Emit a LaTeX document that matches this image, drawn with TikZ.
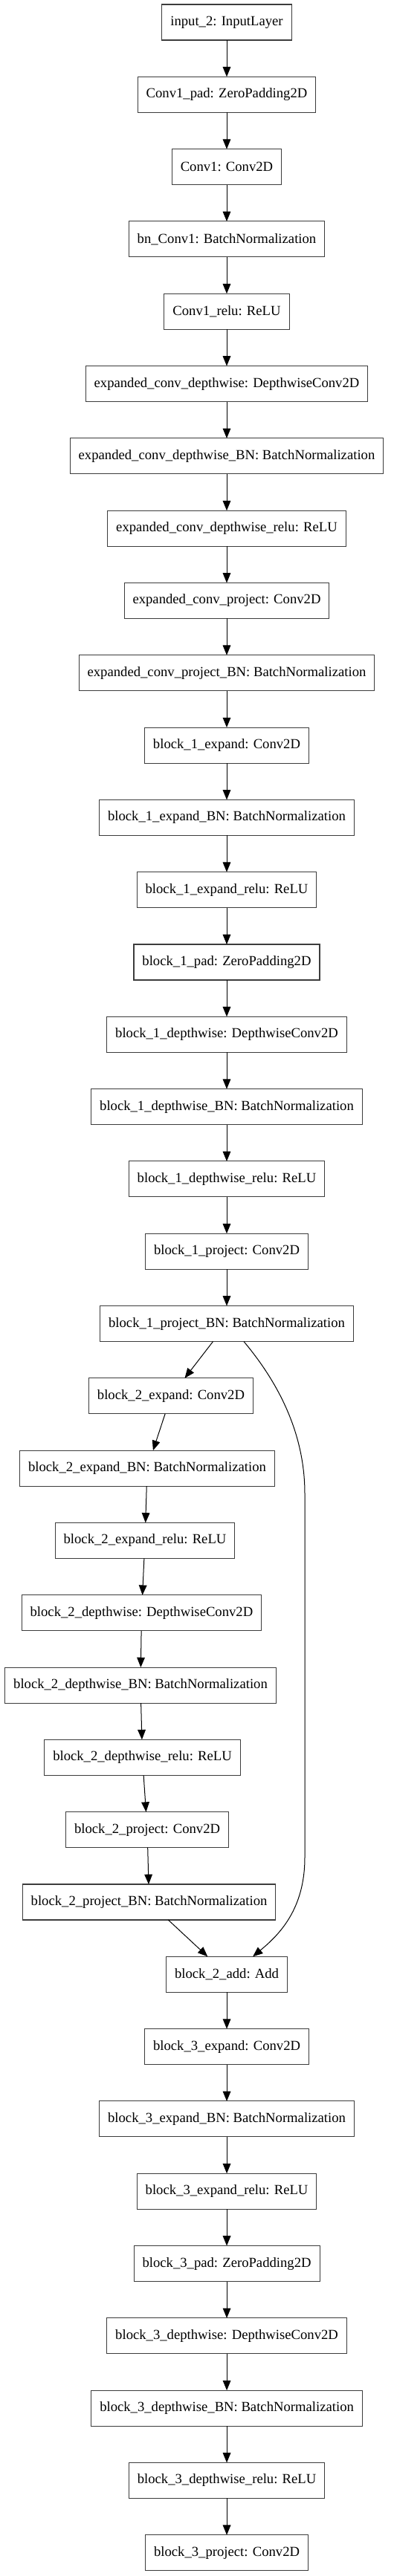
\documentclass[tikz,border=0pt]{standalone}
\usepackage{fontspec}
\setmainfont{Liberation Serif}
\usetikzlibrary{arrows.meta,positioning}
\definecolor{BoxLine}{RGB}{60,60,60}
\tikzset{
  layerbox/.style={draw=BoxLine,line width=0.8pt,rectangle,fill=white,
    minimum height=36pt,inner xsep=8.6pt,outer sep=0pt,align=center,
    font=\fontsize{14pt}{16pt}\selectfont},
  flowarrow/.style={-{Triangle[length=10pt,width=8pt]},
    line width=0.75pt,draw=black},
}

\begin{document}
\begin{tikzpicture}[node distance=36.98pt]
  \useasboundingbox (0,0) rectangle (396.75pt,-2600.25pt);
  % stem
  \node[layerbox] (inp) at (228.75pt,-22.5pt) {input\_2: InputLayer};
  \node[layerbox,below=of inp] (c1pad) {Conv1\_pad: ZeroPadding2D};
  \node[layerbox,below=of c1pad] (c1) {Conv1: Conv2D};
  \node[layerbox,below=of c1] (bnc1) {bn\_Conv1: BatchNormalization};
  \node[layerbox,below=of bnc1] (c1relu) {Conv1\_relu: ReLU};
  % expanded conv
  \node[layerbox,below=of c1relu] (ecdw) {expanded\_conv\_depthwise: DepthwiseConv2D};
  \node[layerbox,below=of ecdw] (ecdwbn) {expanded\_conv\_depthwise\_BN: BatchNormalization};
  \node[layerbox,below=of ecdwbn] (ecdwrelu) {expanded\_conv\_depthwise\_relu: ReLU};
  \node[layerbox,below=of ecdwrelu] (ecproj) {expanded\_conv\_project: Conv2D};
  \node[layerbox,below=of ecproj] (ecprojbn) {expanded\_conv\_project\_BN: BatchNormalization};
  % block 1
  \node[layerbox,below=of ecprojbn] (b1exp) {block\_1\_expand: Conv2D};
  \node[layerbox,below=of b1exp] (b1expbn) {block\_1\_expand\_BN: BatchNormalization};
  \node[layerbox,below=of b1expbn] (b1exprelu) {block\_1\_expand\_relu: ReLU};
  \node[layerbox,below=of b1exprelu] (b1pad) {block\_1\_pad: ZeroPadding2D};
  \node[layerbox,below=of b1pad] (b1dw) {block\_1\_depthwise: DepthwiseConv2D};
  \node[layerbox,below=of b1dw] (b1dwbn) {block\_1\_depthwise\_BN: BatchNormalization};
  \node[layerbox,below=of b1dwbn] (b1dwrelu) {block\_1\_depthwise\_relu: ReLU};
  \node[layerbox,below=of b1dwrelu] (b1proj) {block\_1\_project: Conv2D};
  \node[layerbox,below=of b1proj] (b1projbn) {block\_1\_project\_BN: BatchNormalization};
  % block 2 (residual branch)
  \node[layerbox,below=of b1projbn,xshift=-56.25pt] (b2exp) {block\_2\_expand: Conv2D};
  \node[layerbox,below=of b2exp,xshift=-24pt] (b2expbn) {block\_2\_expand\_BN: BatchNormalization};
  \node[layerbox,below=of b2expbn,xshift=-2.25pt] (b2exprelu) {block\_2\_expand\_relu: ReLU};
  \node[layerbox,below=of b2exprelu,xshift=-3.4pt] (b2dw) {block\_2\_depthwise: DepthwiseConv2D};
  \node[layerbox,below=of b2dw,xshift=-1.1pt] (b2dwbn) {block\_2\_depthwise\_BN: BatchNormalization};
  \node[layerbox,below=of b2dwbn,xshift=1.9pt] (b2dwrelu) {block\_2\_depthwise\_relu: ReLU};
  \node[layerbox,below=of b2dwrelu,xshift=4.9pt] (b2proj) {block\_2\_project: Conv2D};
  \node[layerbox,below=of b2proj,xshift=1.9pt] (b2projbn) {block\_2\_project\_BN: BatchNormalization};
  \node[layerbox,below=of b2projbn,xshift=78.35pt] (b2add) {block\_2\_add: Add};
  % block 3
  \node[layerbox,below=of b2add] (b3exp) {block\_3\_expand: Conv2D};
  \node[layerbox,below=of b3exp] (b3expbn) {block\_3\_expand\_BN: BatchNormalization};
  \node[layerbox,below=of b3expbn] (b3exprelu) {block\_3\_expand\_relu: ReLU};
  \node[layerbox,below=of b3exprelu] (b3pad) {block\_3\_pad: ZeroPadding2D};
  \node[layerbox,below=of b3pad] (b3dw) {block\_3\_depthwise: DepthwiseConv2D};
  \node[layerbox,below=of b3dw] (b3dwbn) {block\_3\_depthwise\_BN: BatchNormalization};
  \node[layerbox,below=of b3dwbn] (b3dwrelu) {block\_3\_depthwise\_relu: ReLU};
  \node[layerbox,below=of b3dwrelu] (b3proj) {block\_3\_project: Conv2D};

  \draw[flowarrow] (inp) -- (c1pad);
  \draw[flowarrow] (c1pad) -- (c1);
  \draw[flowarrow] (c1) -- (bnc1);
  \draw[flowarrow] (bnc1) -- (c1relu);
  \draw[flowarrow] (c1relu) -- (ecdw);
  \draw[flowarrow] (ecdw) -- (ecdwbn);
  \draw[flowarrow] (ecdwbn) -- (ecdwrelu);
  \draw[flowarrow] (ecdwrelu) -- (ecproj);
  \draw[flowarrow] (ecproj) -- (ecprojbn);
  \draw[flowarrow] (ecprojbn) -- (b1exp);
  \draw[flowarrow] (b1exp) -- (b1expbn);
  \draw[flowarrow] (b1expbn) -- (b1exprelu);
  \draw[flowarrow] (b1exprelu) -- (b1pad);
  \draw[flowarrow] (b1pad) -- (b1dw);
  \draw[flowarrow] (b1dw) -- (b1dwbn);
  \draw[flowarrow] (b1dwbn) -- (b1dwrelu);
  \draw[flowarrow] (b1dwrelu) -- (b1proj);
  \draw[flowarrow] (b1proj) -- (b1projbn);
  \draw[flowarrow] (b1projbn) -- (b2exp);
  \draw[flowarrow] (b2exp) -- (b2expbn);
  \draw[flowarrow] (b2expbn) -- (b2exprelu);
  \draw[flowarrow] (b2exprelu) -- (b2dw);
  \draw[flowarrow] (b2dw) -- (b2dwbn);
  \draw[flowarrow] (b2dwbn) -- (b2dwrelu);
  \draw[flowarrow] (b2dwrelu) -- (b2proj);
  \draw[flowarrow] (b2proj) -- (b2projbn);
  \draw[flowarrow] (b2projbn) -- (b2add);
  \draw[flowarrow] (b2add) -- (b3exp);
  \draw[flowarrow] (b3exp) -- (b3expbn);
  \draw[flowarrow] (b3expbn) -- (b3exprelu);
  \draw[flowarrow] (b3exprelu) -- (b3pad);
  \draw[flowarrow] (b3pad) -- (b3dw);
  \draw[flowarrow] (b3dw) -- (b3dwbn);
  \draw[flowarrow] (b3dwbn) -- (b3dwrelu);
  \draw[flowarrow] (b3dwrelu) -- (b3proj);

  % shortcut
  \coordinate (skiptop) at (307.5pt,-1507.5pt);
  \coordinate (skipbot) at (307.5pt,-1875pt);
  \draw[flowarrow] ([xshift=17.25pt]b1projbn.south)
    .. controls +(35.25pt,-42pt) and +(0,60pt) .. (skiptop)
    -- (skipbot)
    .. controls +(0,-52.5pt) and +(26.25pt,21.75pt) .. ([xshift=26.25pt]b2add.north);
\end{tikzpicture}
\end{document}
